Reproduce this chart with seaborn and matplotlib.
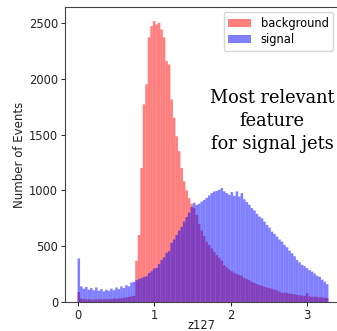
import numpy as np
import pandas as pd
import seaborn as sns
import matplotlib
matplotlib.use("Agg")
import matplotlib.pyplot as plt
from matplotlib.patches import Patch

# ---- data ----
n_bins = 100
x_min, x_max = 0.0, 3.28

background = [
    90, 30, 25, 22, 25, 22, 20, 25, 22, 25,
    22, 28, 25, 28, 30, 30, 32, 35, 38, 40,
    45, 50, 55, 370, 600, 1200, 1770, 1950, 2370, 2470,
    2516, 2486, 2500, 2441, 2370, 2157, 2127, 1813, 1650, 1484,
    1350, 1200, 1080, 1000, 930, 880, 840, 780, 700, 640,
    590, 540, 510, 480, 450, 420, 395, 370, 330, 310,
    290, 275, 262, 250, 240, 235, 215, 205, 195, 180,
    170, 160, 152, 145, 137, 130, 125, 118, 110, 105,
    95, 80, 85, 82, 75, 72, 70, 62, 60, 58,
    55, 80, 50, 45, 48, 45, 42, 40, 38, 35,
]

signal = [
    390, 140, 120, 135, 110, 125, 105, 130, 100, 115,
    95, 110, 100, 120, 105, 130, 115, 140, 125, 150,
    140, 175, 180, 195, 205, 215, 225, 230, 260, 275,
    300, 305, 340, 375, 400, 440, 455, 530, 560, 600,
    640, 673, 720, 760, 800, 850, 888, 870, 880, 900,
    915, 933, 955, 975, 990, 995, 1005, 1020, 990, 975,
    960, 985, 950, 990, 945, 975, 920, 895, 870, 840,
    820, 790, 765, 750, 720, 690, 665, 630, 610, 586,
    560, 541, 512, 490, 460, 437, 410, 377, 355, 332,
    320, 302, 285, 272, 255, 235, 225, 200, 182, 160,
]

labels = ["background", "signal"]
colors = ["red", "blue"]
x_ticks = [0, 1, 2, 3]
y_ticks = [0, 500, 1000, 1500, 2000, 2500]
annotation = "Most relevant\nfeature\nfor signal jets"

edges = np.linspace(x_min, x_max, n_bins + 1)
centers = (edges[:-1] + edges[1:]) / 2

df = pd.concat([
    pd.DataFrame({"z127": centers, "count": background, "label": "background"}),
    pd.DataFrame({"z127": centers, "count": signal, "label": "signal"}),
], ignore_index=True)

# ---- figure ----
W, H = 337, 331
fig = plt.figure(figsize=(W / 100, H / 100), dpi=100)
ax = fig.add_axes([65 / W, 29 / H, 276 / W, 295 / H])

for lab, col in zip(labels, colors):
    sub = df[df["label"] == lab].reset_index(drop=True)
    sns.histplot(data=sub, x="z127", weights="count",
                 bins=n_bins, binrange=(x_min, x_max), color=col, alpha=0.5,
                 linewidth=0, element="bars", snap=False, ax=ax)

ax.set_xticks(x_ticks)
ax.set_yticks(y_ticks)
ax.tick_params(labelsize=8.3, length=3, width=0.7, pad=2, colors="#222222")
ax.set_xlabel("z127", fontsize=8.3, color="#222222")
ax.xaxis.set_label_coords(136 / 276, -17 / 295)
ax.set_ylabel("Number of Events", fontsize=8.5, color="#222222", labelpad=2)
for s in ax.spines.values():
    s.set_linewidth(0.8)
    s.set_color("#444444")

handles = [Patch(facecolor=c, alpha=0.5, edgecolor="none") for c in colors]
ax.legend(handles, labels, loc="upper right", fontsize=8.3,
          bbox_to_anchor=(333 / W, 1 - 12 / H), bbox_transform=fig.transFigure,
          borderaxespad=0, framealpha=0.8, edgecolor="#cccccc",
          handlelength=2.0, handletextpad=0.8, borderpad=0.4, labelspacing=0.3)

fig.text(272 / W, 1 - 121 / H, annotation, family="DejaVu Serif", fontsize=12.8,
         ha="center", va="center", multialignment="center", linespacing=1.35,
         color="black")

fig.savefig("out.png", dpi=100)
